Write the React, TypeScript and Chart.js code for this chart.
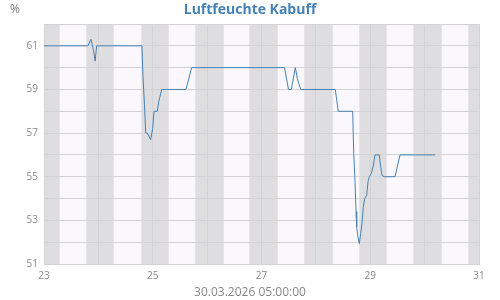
import React, { useEffect, useRef } from "react";
import { Chart, registerables } from "chart.js";

Chart.register(...registerables);

const titleText = "Luftfeuchte Kabuff";
const unitLabel = "%";
const dateLabel = "30.03.2026 05:00:00";

// time in days of March (decimal), humidity in %
const times = [
  23.0, 23.809, 23.864, 23.91, 23.94, 23.969, 24.802, 24.82, 24.848, 24.87,
  24.9, 24.931, 24.962, 24.998, 25.023, 25.084, 25.11, 25.165, 25.611, 25.716,
  27.423, 27.497, 27.548, 27.622, 27.659, 27.721, 28.357, 28.412, 28.677, 28.696,
  28.72, 28.738, 28.751, 28.769, 28.799, 28.824, 28.848, 28.872, 28.898, 28.935,
  28.959, 28.983, 29.019, 29.056, 29.087, 29.166, 29.192, 29.216, 29.253, 29.455,
  29.497, 29.547, 30.191,
];
const humidity = [
  61, 61, 61.3, 60.8, 60.3, 61, 61, 59.6, 58.3, 57.0,
  57.0, 56.85, 56.7, 57.2, 58, 58, 58.44, 59, 59, 60,
  60, 59, 59, 60, 59.5, 59, 59, 58, 58, 56.07,
  54.77, 53.4, 52.7, 52.3, 51.94, 52.4, 52.86, 53.6, 54.0, 54.16,
  54.77, 55.0, 55.15, 55.5, 56, 56, 55.45, 55.07, 55, 55,
  55.45, 56, 56,
];

const nightStarts = [23.0, 23.796, 24.797, 25.795, 26.789, 27.8, 28.811, 29.81, 30.822];
const nightEnds = [23.281, 24.274, 25.286, 26.283, 27.28, 28.291, 29.29, 30.296, 31.0];

const xTickLabels = [23, 25, 27, 29, 31];
const yTickLabels = [51, 53, 55, 57, 59, 61];

export default function App() {
  const ref = useRef<HTMLCanvasElement>(null);

  useEffect(() => {
    if (!ref.current) return;
    Chart.defaults.font.family = "'Open Sans'";

    const bands = {
      id: "bands",
      beforeDraw(chart: any) {
        const { ctx, chartArea, scales } = chart;
        const { left, right, top, bottom } = chartArea;
        const xs = scales.x;
        ctx.save();
        ctx.fillStyle = "#fbf8fd";
        ctx.fillRect(left, top, right - left, bottom - top);
        for (let i = 0; i < nightStarts.length; i++) {
          const x0 = Math.round(xs.getPixelForValue(nightStarts[i]));
          const x1 = Math.round(xs.getPixelForValue(nightEnds[i]));
          ctx.fillStyle = "#dedee1";
          ctx.fillRect(x0, top, x1 - x0, bottom - top);
          ctx.fillStyle = "#ebe2ee";
          if (x0 > left) ctx.fillRect(x0 - 1, top, 1, bottom - top);
          if (x1 < right) ctx.fillRect(x1, top, 1, bottom - top);
        }
        ctx.restore();
      },
    };

    const unit = {
      id: "unit",
      afterDraw(chart: any) {
        const { ctx } = chart;
        ctx.save();
        ctx.font = "12px 'Open Sans'";
        ctx.fillStyle = "#777";
        ctx.textAlign = "left";
        ctx.textBaseline = "alphabetic";
        ctx.fillText(unitLabel, 10, 13);
        ctx.restore();
      },
    };

    const chart = new Chart(ref.current, {
      type: "line",
      data: {
        datasets: [
          {
            data: times.map((t, i) => ({ x: t, y: humidity[i] })),
            borderColor: "#4682b4",
            borderWidth: 1,
            pointRadius: 0,
            tension: 0,
            fill: false,
          },
        ],
      },
      options: {
        animation: false,
        responsive: false,
        devicePixelRatio: 1,
        layout: { padding: 0 },
        plugins: {
          legend: { display: false },
          tooltip: { enabled: false },
          title: {
            display: true,
            text: titleText,
            color: "#4682b4",
            font: { family: "'Open Sans'", size: 14, weight: "bold" },
            padding: { top: 2, bottom: 5.2 },
          },
          subtitle: {
            display: true,
            position: "bottom",
            text: dateLabel,
            color: "#888",
            font: { family: "'Open Sans'", size: 12 },
            padding: { top: 0, bottom: 0.3 },
          },
        },
        scales: {
          x: {
            type: "linear",
            min: 23,
            max: 31,
            ticks: {
              stepSize: 1,
              autoSkip: false,
              maxRotation: 0,
              color: "#888",
              font: { size: 10 },
              padding: 6.5,
              callback: (v: any) => (xTickLabels.includes(Number(v)) ? String(v) : ""),
            },
            grid: { color: "#d3d3d3", drawTicks: false },
            border: { color: "#d3d3d3" },
            afterFit: (s: any) => {
              s.height = 21.3;
            },
          },
          y: {
            type: "linear",
            min: 51,
            max: 62,
            ticks: {
              stepSize: 1,
              autoSkip: false,
              color: "#888",
              font: { size: 10 },
              padding: 6,
              callback: (v: any) => (yTickLabels.includes(Number(v)) ? String(v) : ""),
            },
            grid: { color: "#d3d3d3", drawTicks: false },
            border: { color: "#d3d3d3" },
            afterFit: (s: any) => {
              s.width = 44;
            },
          },
          yRight: {
            type: "linear",
            axis: "y",
            position: "right",
            display: true,
            grid: { display: false, drawTicks: false },
            border: { display: false },
            ticks: { display: false },
            afterFit: (s: any) => {
              s.width = 21;
            },
          },
        },
      },
      plugins: [bands, unit],
    } as any);

    return () => chart.destroy();
  }, []);

  return (
    <div style={{ position: "absolute", left: 0, top: 0, width: 500, height: 300, background: "#fff" }}>
      <canvas ref={ref} width={500} height={300} style={{ width: 500, height: 300, display: "block" }} />
    </div>
  );
}
